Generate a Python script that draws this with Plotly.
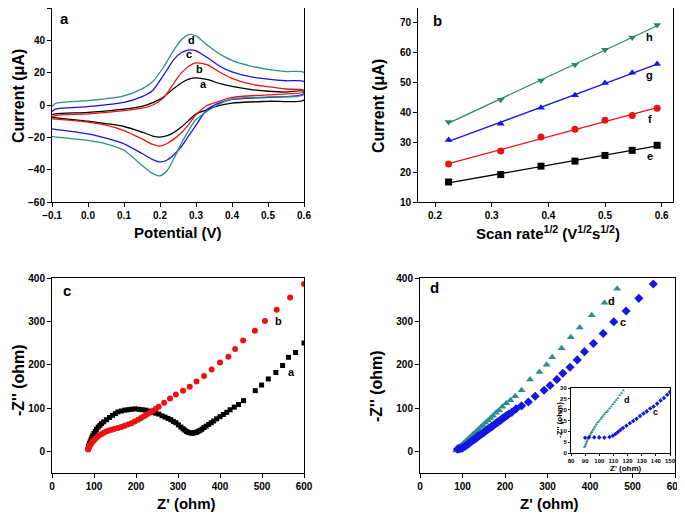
import numpy as np
import plotly.graph_objects as go

# the page body adds an 8px margin, so the figure is drawn 8px in from the window corner
OFF = 8
WIN_W, WIN_H = 685, 517
W, H = WIN_W - OFF, WIN_H - OFF
FONT = "Liberation Sans, Arial, sans-serif"

# ---------------- Panel a : cyclic voltammograms ----------------
E_fwd = [-0.1, -0.09, 0.0, 0.1, 0.15, 0.18, 0.21, 0.24, 0.26, 0.28, 0.30, 0.33, 0.37, 0.40, 0.45, 0.50, 0.55, 0.60]
E_rev = [0.60, 0.50, 0.40, 0.36, 0.33, 0.30, 0.28, 0.26, 0.24, 0.22, 0.20, 0.18, 0.15, 0.10, 0.05, 0.0, -0.1]
cv_a_fwd = [-6.1, -5.5, -4.5, -2.5, -0.8, 1.5, 5.0, 10.5, 13.8, 16.0, 16.8, 15.8, 13.0, 11.5, 9.7, 8.5, 8.0, 8.5]
cv_a_rev = [3.0, 2.3, 1.2, -0.5, -3.0, -5.5, -9.5, -13.5, -16.8, -19.0, -19.9, -19.2, -16.8, -13.3, -11.5, -10.0, -7.6]
cv_b_fwd = [-7.6, -6.5, -5.5, -3.5, -2.0, 0.0, 4.5, 14.0, 20.0, 24.0, 26.0, 25.0, 19.8, 16.5, 13.0, 11.3, 9.9, 9.2]
cv_b_rev = [8.0, 6.3, 4.7, 2.0, -0.5, -6.0, -12.0, -17.0, -20.8, -23.8, -25.4, -24.4, -21.0, -15.8, -12.5, -10.6, -8.6]
cv_c_fwd = [-4.0, -2.5, -1.0, 1.6, 5.2, 9.0, 18.5, 28.5, 32.5, 34.0, 33.5, 29.5, 23.5, 20.5, 17.5, 16.0, 15.0, 14.5]
cv_c_rev = [7.0, 4.7, 3.5, 0.8, -3.0, -12.5, -19.0, -25.5, -30.5, -34.0, -35.2, -33.8, -30.0, -24.0, -20.5, -17.8, -14.7]
cv_d_fwd = [-1.0, 1.0, 2.7, 5.7, 10.0, 14.5, 23.5, 34.5, 40.5, 43.6, 42.8, 37.3, 31.0, 27.6, 24.2, 22.1, 20.7, 20.1]
cv_d_rev = [6.5, 5.0, 3.8, 0.0, -4.0, -9.0, -15.5, -23.5, -32.5, -40.5, -43.8, -42.4, -37.3, -28.0, -24.0, -21.9, -19.5]
cv_labels = ["a", "b", "c", "d"]
cv_label_x = [0.322, 0.309, 0.281, 0.287]
cv_label_y = [13.3, 22.1, 31.3, 40.0]

# ---------------- Panel b : peak current vs sqrt(scan rate) ----------------
sqrt_rate = [0.224, 0.316, 0.387, 0.447, 0.500, 0.548, 0.592]
ip_e = [16.7, 19.2, 22.0, 23.7, 25.6, 27.3, 29.0]
ip_f = [22.7, 27.1, 31.8, 34.4, 37.4, 39.0, 41.4]
ip_g = [30.8, 36.2, 41.6, 45.8, 49.9, 53.3, 56.2]
ip_h = [36.8, 44.3, 50.7, 56.0, 61.0, 65.1, 69.3]
b_labels = ["e", "f", "g", "h"]
b_label_y = [25.3, 37.8, 52.7, 65.4]

# ---------------- Panel c : Nyquist a, b ----------------
zc_a_re = [86, 87, 88, 89, 91, 93, 95, 97, 100, 103, 106, 110, 114, 118, 123, 130, 137, 144, 151, 157, 165, 173,
           181, 189, 198, 207, 215, 223, 231, 239, 247, 254, 262, 269, 276, 283, 289, 295, 301, 307, 312, 316, 320,
           324, 328, 332, 336, 340, 344, 348, 352, 357, 362, 367, 373, 379, 385, 392, 400, 408, 416, 424, 434, 444,
           456, 484, 499, 515, 533, 549, 563, 580, 600]
zc_a_im = [6, 10, 14, 18, 22, 27, 32, 36, 41, 46, 51, 56, 60, 64, 68, 73, 78, 83, 87, 91, 93, 95,
           96, 97, 98, 97, 96, 95, 93, 90, 88, 86, 82, 79, 76, 73, 69, 66, 61, 56, 52, 49, 46,
           44, 43, 42, 42, 43, 44, 46, 48, 51, 55, 58, 62, 66, 70, 75, 80, 85, 90, 96, 102, 108,
           117, 140, 153, 167, 182, 198, 217, 228, 250]
zc_b_re = [86, 87, 88, 90, 92, 94, 96, 99, 102, 105, 109, 113, 118, 123, 129, 135, 142, 149, 157, 165, 173, 181,
           189, 197, 205, 212, 219, 226, 233, 240, 247, 254, 267, 281, 295, 312, 328, 344, 362, 380, 400, 420,
           436, 455, 483, 507, 535, 567, 600]
zc_b_im = [4, 6, 9, 13, 16, 19, 22, 25, 28, 31, 34, 37, 40, 43, 46, 48, 50, 52, 54, 56, 59, 62,
           65, 69, 73, 77, 81, 85, 89, 93, 98, 103, 112, 122, 131, 140, 149, 161, 174, 189, 205, 218,
           236, 256, 278, 301, 327, 355, 386]

# ---------------- Panel d : Nyquist c, d ----------------
zd_c_re = [88, 91, 94, 97, 100, 103, 106, 109, 112, 115, 118, 121, 124, 127, 130, 133, 136, 139, 142, 145, 148,
           151, 154, 157, 160, 163, 166, 169, 172, 175, 178, 181, 184, 187, 190, 193, 196, 199, 202, 205, 209,
           216, 226, 239, 255, 271, 292, 306, 322, 336, 353, 370, 387, 408, 431, 456, 485, 515, 549]
zd_c_im = [5, 6, 6, 7, 8, 10, 12, 14, 16, 18, 21, 23, 25, 27, 29, 31, 34, 36, 38, 40, 42,
           44, 47, 49, 51, 53, 55, 57, 59, 62, 64, 66, 68, 70, 72, 75, 77, 79, 81, 83, 86,
           90, 98, 105, 114, 127, 141, 152, 166, 180, 194, 211, 230, 249, 272, 299, 324, 353, 386]
zd_d_re = [85, 88, 91, 94, 97, 100, 104, 108, 112, 116, 120, 124, 128, 133, 138, 143, 148, 154, 160, 166, 172,
           179, 186, 194, 203, 213, 224, 239, 259, 281, 298, 311, 333, 355, 376, 404, 434, 464]
zd_d_im = [2, 5, 8, 11, 13, 16, 20, 23, 27, 31, 34, 38, 42, 46, 51, 56, 60, 66, 71, 77, 82,
           89, 95, 103, 111, 118, 127, 141, 166, 183, 200, 217, 238, 263, 286, 314, 343, 375]

# inset (zoom of high-frequency region)
in_c_re = [90, 92.8, 96.4, 100, 103.6, 107.2, 109.6, 111.5, 113.2, 114.9, 116.8, 119.2, 121.6, 124, 126.4,
           128.8, 131.2, 133.6, 136, 138.4, 140.9, 143.3, 145.7, 148, 150]
in_c_im = [7.0, 7.3, 7.2, 7.2, 7.1, 7.4, 8.0, 8.8, 9.7, 10.6, 11.5, 12.6, 13.7, 14.8, 15.8,
           17.1, 18.2, 19.2, 20.5, 21.5, 22.8, 24.2, 25.4, 26.9, 28.2]
in_d_re = [89.4, 89.9, 90.4, 90.8, 91.3, 91.8, 92.3, 92.7, 93.3, 94, 94.6, 95.2, 95.9, 96.6, 97.3, 98, 99,
           100, 101, 101.9, 102.8, 103.8, 104.9, 106, 107.2, 108.4, 109.6, 110.8, 112, 113.2, 114.5, 115.8, 117]
in_d_im = [2.8, 3.1, 3.9, 4.6, 5.4, 6.2, 6.8, 7.4, 8.2, 8.9, 9.6, 10.3, 11.0, 11.8, 12.6, 13.4, 14.2,
           14.9, 15.7, 16.5, 17.2, 18.0, 18.8, 19.5, 20.5, 21.5, 22.5, 23.5, 24.5, 25.4, 26.6, 27.7, 28.9]

# ---------------- colours ----------------
BLACK, RED, BLUE = "#000000", "#ee1111", "#1515e6"
TEAL = "#2b8f8f"
GREEN = "#2a8a5e"


def fx(x):
    """window x pixel -> paper fraction"""
    return min(1.0, max(0.0, (x - OFF) / W))


def fy(y):
    """window y pixel -> paper fraction"""
    return min(1.0, max(0.0, 1 - (y - OFF) / H))


fig = go.Figure()

# panel a traces
for fwd, rev, col in [(cv_a_fwd, cv_a_rev, BLACK), (cv_b_fwd, cv_b_rev, RED),
                      (cv_c_fwd, cv_c_rev, BLUE), (cv_d_fwd, cv_d_rev, TEAL)]:
    fig.add_trace(go.Scatter(x=E_fwd + E_rev, y=fwd + rev, mode="lines",
                             line=dict(color=col, width=1.3, shape="spline", smoothing=0.7),
                             xaxis="x", yaxis="y", showlegend=False))

# panel b traces
for vals, col, sym in [(ip_e, BLACK, "square"), (ip_f, RED, "circle"),
                       (ip_g, BLUE, "triangle-up"), (ip_h, GREEN, "triangle-down")]:
    k, b0 = np.polyfit(sqrt_rate, vals, 1)
    xs = np.array([sqrt_rate[0], sqrt_rate[-1]])
    fig.add_trace(go.Scatter(x=xs, y=k * xs + b0, mode="lines", line=dict(color=col, width=1.3),
                             xaxis="x2", yaxis="y2", showlegend=False))
    fig.add_trace(go.Scatter(x=sqrt_rate, y=vals, mode="markers",
                             marker=dict(color=col, symbol=sym, size=7),
                             xaxis="x2", yaxis="y2", showlegend=False))

# panel c traces
fig.add_trace(go.Scatter(x=zc_a_re, y=zc_a_im, mode="markers",
                         marker=dict(color=BLACK, symbol="square", size=5),
                         xaxis="x3", yaxis="y3", showlegend=False))
fig.add_trace(go.Scatter(x=zc_b_re, y=zc_b_im, mode="markers",
                         marker=dict(color=RED, symbol="circle", size=6),
                         xaxis="x3", yaxis="y3", showlegend=False))

# panel d traces
fig.add_trace(go.Scatter(x=zd_d_re, y=zd_d_im, mode="markers",
                         marker=dict(color=TEAL, symbol="triangle-up", size=7),
                         xaxis="x4", yaxis="y4", showlegend=False))
fig.add_trace(go.Scatter(x=zd_c_re, y=zd_c_im, mode="markers",
                         marker=dict(color=BLUE, symbol="diamond", size=7),
                         xaxis="x4", yaxis="y4", showlegend=False))

# inset traces
fig.add_trace(go.Scatter(x=in_d_re, y=in_d_im, mode="markers",
                         marker=dict(color=TEAL, symbol="triangle-up", size=3),
                         xaxis="x5", yaxis="y5", showlegend=False))
fig.add_trace(go.Scatter(x=in_c_re, y=in_c_im, mode="markers",
                         marker=dict(color=BLUE, symbol="diamond", size=3.5),
                         xaxis="x5", yaxis="y5", showlegend=False))

tickfont = dict(family=FONT, size=10, color="black", weight="bold")


def ax(domain, rng, anchor, tickvals=None, fmt=None, tf=tickfont, tl=4):
    d = dict(domain=domain, range=rng, anchor=anchor, showline=True, mirror=True,
             linecolor="black", linewidth=1, ticks="outside", ticklen=tl, tickwidth=1,
             tickcolor="black", showgrid=False, zeroline=False, tickfont=tf,
             automargin=False, tickmode="array", tickvals=tickvals)
    if fmt:
        d["tickformat"] = fmt
    return d


xa_dom = [fx(52), fx(304)]
xb_dom = [fx(418), fx(673)]
xd_dom = [fx(420), fx(675)]
top_dom = [fy(202), fy(8)]
bot_dom = [fy(473), fy(278)]
inset_x = [fx(571), fx(670)]
inset_y = [fy(453), fy(388)]
inset_font = dict(family=FONT, size=6, color="black", weight="bold")

fig.update_layout(
    width=W, height=H, margin=dict(l=0, r=0, t=0, b=0, autoexpand=False),
    paper_bgcolor="white", plot_bgcolor="white",
    xaxis=ax(xa_dom, [-0.1, 0.6], "y", tickvals=[-0.1, 0, 0.1, 0.2, 0.3, 0.4, 0.5, 0.6], fmt=".1f"),
    yaxis=ax(top_dom, [-60, 60], "x", tickvals=[-60, -40, -20, 0, 20, 40, 60]),
    xaxis2=ax(xb_dom, [0.17, 0.62], "y2", tickvals=[0.2, 0.3, 0.4, 0.5, 0.6], fmt=".1f"),
    yaxis2=ax(top_dom, [10, 75], "x2", tickvals=[10, 20, 30, 40, 50, 60, 70]),
    xaxis3=ax(xa_dom, [0, 600], "y3", tickvals=[0, 100, 200, 300, 400, 500, 600]),
    yaxis3=ax(bot_dom, [-50, 400], "x3", tickvals=[0, 100, 200, 300, 400]),
    xaxis4=ax(xd_dom, [0, 600], "y4", tickvals=[0, 100, 200, 300, 400, 500, 600]),
    yaxis4=ax(bot_dom, [-50, 400], "x4", tickvals=[0, 100, 200, 300, 400]),
    xaxis5=ax(inset_x, [80, 150], "y5", tickvals=[80, 90, 100, 110, 120, 130, 140, 150], tf=inset_font, tl=2),
    yaxis5=ax(inset_y, [0, 30], "x5", tickvals=[0, 5, 10, 15, 20, 25, 30], tf=inset_font, tl=2),
)

ann = []


def paper_text(text, x, y, size, angle=0):
    ann.append(dict(text=text, x=fx(x), y=fy(y), xref="paper", yref="paper", showarrow=False,
                    textangle=angle, xanchor="center", yanchor="middle",
                    font=dict(family=FONT, size=size, color="black", weight="bold")))


def data_text(text, x, y, xr, yr, size):
    ann.append(dict(text=text, x=x, y=y, xref=xr, yref=yr, showarrow=False,
                    xanchor="center", yanchor="middle",
                    font=dict(family=FONT, size=size, color="black", weight="bold")))


# axis titles
paper_text("Potential (V)", 178, 233, 15)
paper_text("Current (\u03bcA)", 18, 96, 16, -90)
paper_text("Scan rate<sup>1/2</sup> (V<sup>1/2</sup>s<sup>1/2</sup>)", 548, 233, 15)
paper_text("Current (\u03bcA)", 379, 106, 16, -90)
paper_text("Z' (ohm)", 186, 503, 15)
paper_text("-Z'' (ohm)", 18, 380, 16, -90)
paper_text("Z' (ohm)", 549, 503, 15)
paper_text("-Z'' (ohm)", 376, 386, 16, -90)
paper_text("Z' (ohm)", 626, 468, 8)
paper_text("-Z'' (ohm)", 559, 420, 8, -90)

# panel letters
paper_text("a", 64, 19, 15)
paper_text("b", 437, 20, 15)
paper_text("c", 67, 290, 15)
paper_text("d", 434, 287, 15)

# curve labels
for t, x, y in zip(cv_labels, cv_label_x, cv_label_y):
    data_text(t, x, y, "x", "y", 11)
for t, y in zip(b_labels, b_label_y):
    data_text(t, 0.579, y, "x2", "y2", 11)
data_text("b", 539, 300, "x3", "y3", 11)
data_text("a", 571, 184, "x3", "y3", 11)
data_text("d", 451, 347, "x4", "y4", 11)
data_text("c", 477, 299, "x4", "y4", 11)
data_text("d", 119.5, 24.6, "x5", "y5", 9)
data_text("c", 140, 19.0, "x5", "y5", 9)

fig.update_layout(annotations=ann)
fig.write_html("out.html")
